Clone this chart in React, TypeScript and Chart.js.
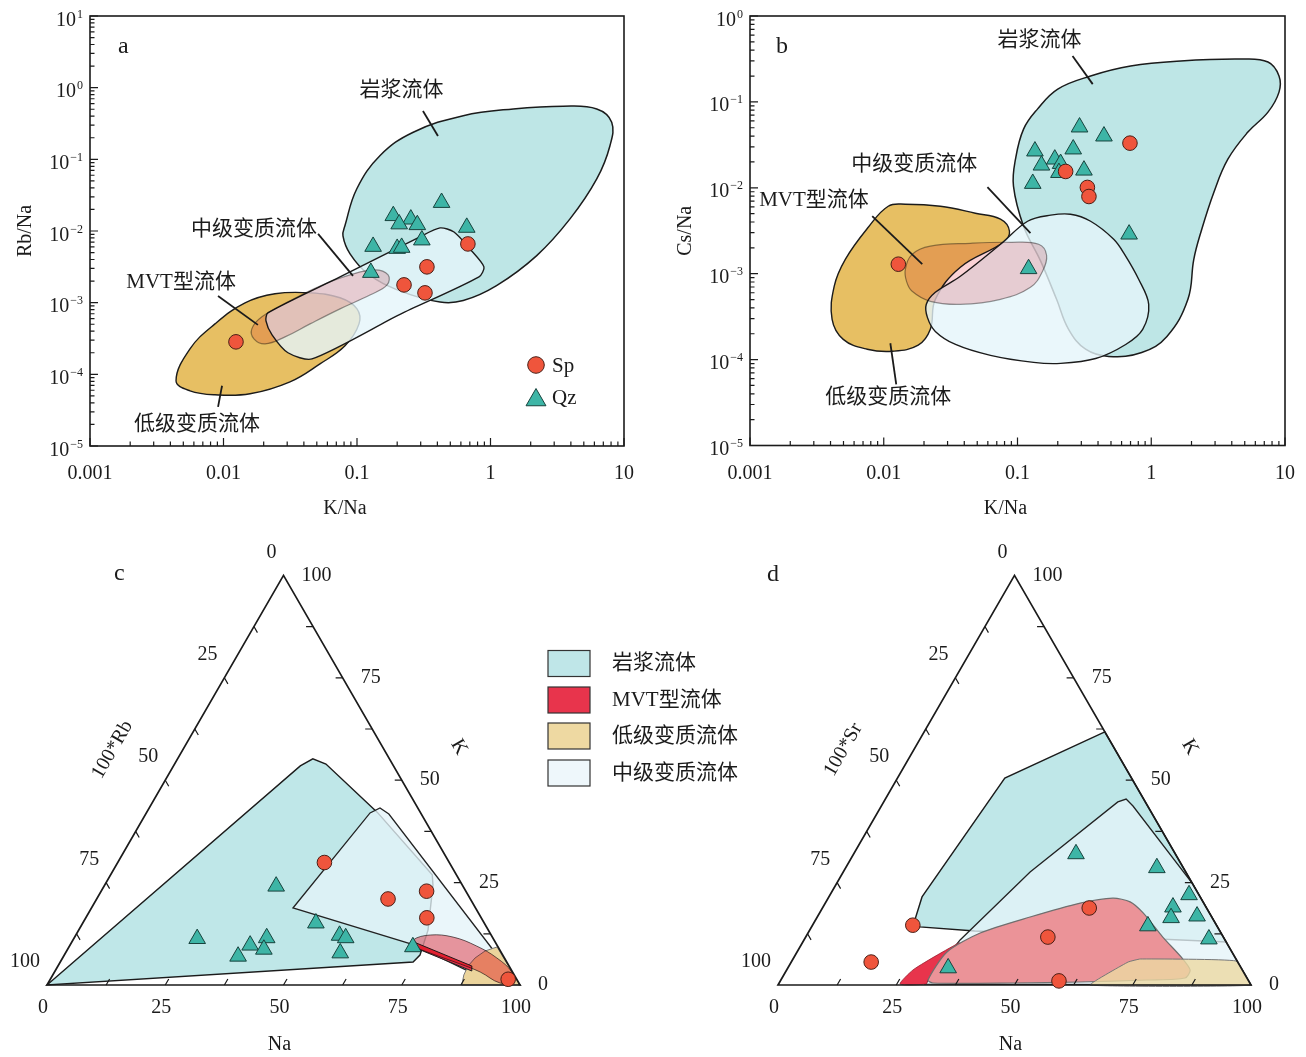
import React, { useEffect, useRef } from 'react';
import { Chart, registerables } from 'chart.js';

// ================= DATA =================
// ---- Panel a : K/Na vs Rb/Na ----
const A_SP_KNA = [0.0124, 0.677, 0.334, 0.225, 0.323];
const A_SP_RBNA = [0.000284, 0.0066, 0.00316, 0.00177, 0.00137];
const A_QZ_KNA = [0.43, 0.187, 0.253, 0.207, 0.283, 0.664, 0.132, 0.2, 0.216, 0.306, 0.127];
const A_QZ_RBNA = [0.0249, 0.0163, 0.0146, 0.0125, 0.0122, 0.0112, 0.00607, 0.00569, 0.00588, 0.00746, 0.00263];

// field outlines [K/Na, Rb/Na]
const A_MAGMA = [[0.21, 0.00146], [0.121, 0.00252], [0.0887, 0.0048], [0.0785, 0.00855], [0.0813, 0.0119], [0.0995, 0.0386], [0.149, 0.113], [0.264, 0.239], [0.625, 0.407], [1.48, 0.505], [3.51, 0.551], [6.25, 0.505], [8.09, 0.329], [7.85, 0.155], [6.25, 0.0533], [3.94, 0.01475], [2.22, 0.00454], [1.11, 0.00173], [0.625, 0.00107], [0.419, 0.00102]];
const A_MID = [[0.0215, 0.000721], [0.0746, 0.00229], [0.296, 0.00828], [0.419, 0.01104], [0.533, 0.0097], [0.701, 0.00562], [0.893, 0.00316], [0.82, 0.00229], [0.21, 0.000687], [0.046, 0.000164], [0.0304, 0.0002], [0.0231, 0.000356], [0.0208, 0.000557]];
const A_LOW = [[0.00441, 0.0000811], [0.00561, 0.000227], [0.00863, 0.000506], [0.0145, 0.000993], [0.0243, 0.00133], [0.0445, 0.00137], [0.0746, 0.00117], [0.1, 0.00082], [0.1035, 0.000506], [0.0813, 0.00025], [0.0528, 0.00014], [0.0315, 0.0000786], [0.0158, 0.0000535], [0.00863, 0.0000518], [0.00561, 0.0000589]];
const A_MVT = [[0.0163, 0.000431], [0.0194, 0.000634], [0.0315, 0.00106], [0.0528, 0.00171], [0.0887, 0.00244], [0.136, 0.00287], [0.171, 0.00244], [0.168, 0.00177], [0.125, 0.00128], [0.0746, 0.00082], [0.0445, 0.000506], [0.0289, 0.000333], [0.0205, 0.000266], [0.0169, 0.000313]];

// ---- Panel b : K/Na vs Cs/Na ----
const B_SP_KNA = [0.693, 0.229, 0.333, 0.342, 0.01285];
const B_SP_CSNA = [0.0331, 0.0155, 0.0101, 0.00792, 0.00129];
const B_QZ_KNA = [0.291, 0.443, 0.135, 0.261, 0.19, 0.21, 0.151, 0.204, 0.314, 0.13, 0.683, 0.121];
const B_QZ_CSNA = [0.0508, 0.0399, 0.0267, 0.0282, 0.0215, 0.0191, 0.0183, 0.015, 0.016, 0.0112, 0.00288, 0.00114];

const B_MAGMA = [[0.111, 0.00357], [0.0933, 0.01044], [0.0966, 0.0215], [0.111, 0.0482], [0.141, 0.0824], [0.2, 0.141], [0.352, 0.2], [0.701, 0.261], [1.66, 0.299], [4.68, 0.315], [7.46, 0.291], [9.02, 0.2], [9.02, 0.13], [7.46, 0.076], [5.28, 0.0445], [3.74, 0.0215], [2.94, 0.00889], [2.35, 0.00304], [2.08, 0.00147], [1.88, 0.000503], [1.31, 0.000186], [0.849, 0.000121], [0.481, 0.000109], [0.323, 0.000132], [0.241, 0.000225], [0.196, 0.000503], [0.149, 0.0014]];
const B_MID = [[0.0208, 0.00044], [0.0243, 0.000607], [0.0374, 0.000933], [0.0746, 0.0022], [0.119, 0.00408], [0.177, 0.0048], [0.249, 0.00492], [0.352, 0.00408], [0.524, 0.00252], [0.632, 0.00168], [0.805, 0.000861], [0.957, 0.00044], [0.863, 0.000225], [0.644, 0.00015], [0.384, 0.000103], [0.21, 0.0000903], [0.132, 0.0000927], [0.0628, 0.000112], [0.0344, 0.00015], [0.0243, 0.000213], [0.0212, 0.00031]];
const B_LOW = [[0.0108, 0.0061], [0.0145, 0.00644], [0.0265, 0.0061], [0.0484, 0.00506], [0.0746, 0.00431], [0.0871, 0.00312], [0.0785, 0.00232], [0.0374, 0.00119], [0.0243, 0.000503], [0.0223, 0.000225], [0.0181, 0.000147], [0.0116, 0.000125], [0.00752, 0.000132], [0.00498, 0.000172], [0.00411, 0.000294], [0.00426, 0.000713], [0.00516, 0.00147], [0.00766, 0.00347]];
const B_MVT = [[0.0145, 0.00112], [0.0163, 0.00168], [0.0223, 0.00209], [0.0445, 0.00226], [0.0887, 0.00232], [0.144, 0.0022], [0.165, 0.00164], [0.154, 0.00107], [0.125, 0.000694], [0.0746, 0.000503], [0.0374, 0.00044], [0.0223, 0.000477], [0.0163, 0.000624], [0.0148, 0.000815]];

// ---- Panel c : Na - K - 100*Rb (values in %) ----
const C_SP_NA = [43.7, 61.6, 68.8, 72.1, 96.8];
const C_SP_K = [29.9, 21.0, 22.9, 16.4, 1.4];
const C_QZ_NA = [36.4, 26.1, 38.1, 40.7, 36.9, 41.5, 49.3, 55.8, 57.4, 58.1, 72.7];
const C_QZ_K = [24.1, 11.3, 9.7, 11.5, 7.0, 8.7, 15.1, 12.1, 11.5, 7.8, 9.3];
// field outlines [Na, K]
const C_MAGMA = [[0, 0], [26.8, 53.5], [28.6, 55.2], [32.0, 53.95], [48.7, 42.2], [68.0, 26.9], [69.4, 24.4], [73.85, 13.4], [75.2, 7.3], [74.6, 5.6]];
const C_MID = [[42.6, 18.8], [47.3, 42.0], [48.8, 43.2], [51.4, 41.75], [100, 0], [87.8, 3.2], [72.7, 9.8]];
const C_LOW = [[87.7, 0], [86.9, 2.44], [86.7, 4.64], [87.2, 6.59], [88.45, 8.3], [90.5, 9.28], [100, 0]];
const C_MVT_CORE = [[72.3, 10.5], [87.5, 4.64], [88.1, 3.42], [73.5, 9.0]];
const C_MVT_HALO = [[71.9, 11.0], [74.9, 12.2], [80.0, 11.7], [86.1, 9.5], [91.8, 6.6], [96.7, 3.17], [98.2, 0.73], [95.5, 0.5], [90.0, 3.17], [84.8, 5.13], [77.1, 7.8], [73.0, 9.5]];

// ---- Panel d : Na - K - 100*Sr (values in %) ----
const D_SP_NA = [21.2, 16.9, 56.4, 51.2, 58.9];
const D_SP_K = [14.6, 5.6, 18.8, 11.7, 1.0];
const D_QZ_NA = [47.0, 65.8, 75.9, 74.0, 74.9, 80.2, 71.0, 85.5, 33.9];
const D_QZ_K = [32.0, 28.6, 22.0, 19.0, 16.4, 16.8, 14.4, 11.2, 4.15];
const D_MAGMA = [[21.1, 15.4], [19.7, 21.5], [22.7, 50.5], [38.2, 61.8], [89.5, 10.5], [35.0, 13.2], [22.9, 14.2]];
const D_MID = [[31.0, 0.2], [33.0, 11.0], [39.5, 27.6], [49.5, 44.7], [50.9, 45.4], [53.2, 43.7], [75.1, 24.9], [100, 0]];
const D_LOW = [[66.0, 0], [71.2, 5.6], [73.4, 6.35], [93.9, 5.86], [100, 0]];
const D_MVT_CORE = [[25.7, 0.24], [26.7, 3.66], [30.0, 7.3], [33.2, 10.3], [31.7, 8.06], [31.1, 1.22], [31.2, 0.24]];
const D_MVT_HALO = [[31.1, 1.22], [31.7, 8.06], [36.4, 12.7], [45.0, 16.6], [53.9, 20.0], [60.2, 21.2], [64.3, 20.3], [68.4, 17.6], [75.5, 11.7], [82.1, 6.6], [85.3, 3.66], [85.2, 1.7], [77.4, 1.22], [63.5, 0.73], [49.4, 0.49], [32.5, 0.49]];

// ---- tick labels / texts ----
const LOG_X_TICKS = [0.001, 0.01, 0.1, 1, 10];
const LOG_X_TICK_LABELS = ['0.001', '0.01', '0.1', '1', '10'];
const A_Y_EXPONENTS = [1, 0, -1, -2, -3, -4, -5];
const B_Y_EXPONENTS = [0, -1, -2, -3, -4, -5];
const TERN_TICKS = [0, 25, 50, 75, 100];
const TERN_MINOR = [12.5, 25, 37.5, 50, 62.5, 75, 87.5];
const FIELD_NAMES = ['岩浆流体', 'MVT型流体', '低级变质流体', '中级变质流体'];
const LEGEND_COLORS = ['#bfe6e8', '#e8344c', '#eed9a2', '#eef7fb'];

const A_NOTES = [
  { text: '岩浆流体', at: [0.215, 0.914], from: [0.312, 0.473], to: [0.404, 0.212] },
  { text: '中级变质流体', at: [0.0169, 0.01035], from: [0.0511, 0.0091], to: [0.0933, 0.00237] },
  { text: 'MVT型流体', at: [0.00481, 0.00189], from: [0.0091, 0.00124], to: [0.0181, 0.00049] },
  { text: '低级变质流体', at: [0.00632, 0.0000198], from: [0.00975, 0.0000692], to: [0.0091, 0.0000352] },
];
const B_NOTES = [
  { text: '岩浆流体', at: [0.146, 0.525], from: [0.258, 0.342], to: [0.365, 0.161] },
  { text: '中级变质流体', at: [0.0169, 0.01884], from: [0.0596, 0.01016], to: [0.125, 0.00296] },
  { text: 'MVT型流体', at: [0.00301, 0.00717], from: [0.0082, 0.00467], to: [0.0194, 0.00129] },
  { text: '低级变质流体', at: [0.0108, 0.0000362], from: [0.0112, 0.000155], to: [0.0124, 0.0000514] },
];

// ================= STYLE / LAYOUT =================
const W = 1306;
const H = 1057;
const SQ = Math.sqrt(3) / 2;
const SERIF = '"Liberation Serif", "Times New Roman", serif';
const MIXED = '"Liberation Serif", "Noto Sans CJK SC", serif';
const INK = '#1b1b1b';
const SP_FILL = '#ef553c';
const SP_EDGE = '#4a1f16';
const QZ_FILL = '#3db5a6';
const QZ_EDGE = '#17433d';

const AREA_A = { left: 90, top: 16, right: 624, bottom: 446 };
const AREA_B = { left: 750, top: 16, right: 1285, bottom: 445.5 };
const AREA_C = { left: 47, top: 985 - 473 * SQ, right: 520, bottom: 985 };
const AREA_D = { left: 778, top: 985 - 473 * SQ, right: 1251, bottom: 985 };

// global helper: closed outlines + blend modes (registered before the Filler)
const shapeHelper: any = {
  id: 'shapeHelper',
  afterDatasetUpdate(chart: any, args: any) {
    const ds = chart.data.datasets[args.index];
    const line = args.meta && args.meta.dataset;
    if (ds && ds.closed && line) {
      line._loop = true;
      line._fullLoop = true;
    }
  },
  beforeDatasetDraw(chart: any, args: any) {
    const ds = chart.data.datasets[args.index];
    if (ds && ds.blend) {
      chart.ctx.save();
      chart.ctx.globalCompositeOperation = ds.blend;
    }
  },
  afterDatasetDraw(chart: any, args: any) {
    const ds = chart.data.datasets[args.index];
    if (ds && ds.blend) chart.ctx.restore();
  },
};
Chart.register(shapeHelper);
Chart.register(...registerables);

const toXY = (pts: number[][]) => pts.map(([x, y]) => ({ x, y }));
const ternXY = (pts: number[][]) => pts.map(([na, k]) => ({ x: na + k / 2, y: k * SQ }));
const zipXY = (xs: number[], ys: number[]) => xs.map((x, i) => ({ x, y: ys[i] }));
const zipTern = (na: number[], k: number[]) => na.map((n, i) => ({ x: n + k[i] / 2, y: k[i] * SQ }));

function shape(data: any[], bg: string, border: string, bw: number, tension: number, order: number, extra: any = {}) {
  return {
    data, backgroundColor: bg, borderColor: border, borderWidth: bw, fill: 'shape', tension,
    spanGaps: true, closed: true, pointRadius: 0, pointHoverRadius: 0, pointHitRadius: 0,
    clip: false, order, ...extra,
  };
}
function spDs(data: any[]) {
  return {
    data, showLine: false, fill: false, pointStyle: 'circle', pointRadius: 7.3, pointHoverRadius: 7.3,
    pointBackgroundColor: SP_FILL, pointBorderColor: SP_EDGE, pointBorderWidth: 1, borderWidth: 0, clip: false, order: 0,
  };
}
function qzDs(data: any[]) {
  return {
    data, showLine: false, fill: false, pointStyle: 'triangle', pointRadius: 9.6, pointHoverRadius: 9.6,
    pointBackgroundColor: QZ_FILL, pointBorderColor: QZ_EDGE, pointBorderWidth: 1, borderWidth: 0, clip: false, order: 1,
    drawAxes: true,
  };
}

function baseOptions(area: any, xScale: any, yScale: any) {
  return {
    responsive: false, animation: false, events: [],
    layout: { autoPadding: false, padding: { left: area.left, top: area.top, right: W - area.right, bottom: H - area.bottom } },
    plugins: { legend: { display: false }, tooltip: { enabled: false }, title: { display: false } },
    scales: { x: { ...xScale, display: false, bounds: 'data' }, y: { ...yScale, display: false, bounds: 'data' } },
  };
}

function drawCircleMarker(ctx: any, x: number, y: number, r: number) {
  ctx.beginPath(); ctx.arc(x, y, r, 0, Math.PI * 2);
  ctx.fillStyle = SP_FILL; ctx.fill(); ctx.lineWidth = 1; ctx.strokeStyle = SP_EDGE; ctx.stroke();
}
function drawTriMarker(ctx: any, x: number, y: number, r: number) {
  ctx.beginPath(); ctx.moveTo(x, y - r); ctx.lineTo(x + r * SQ, y + r / 2); ctx.lineTo(x - r * SQ, y + r / 2); ctx.closePath();
  ctx.fillStyle = QZ_FILL; ctx.fill(); ctx.lineWidth = 1; ctx.strokeStyle = QZ_EDGE; ctx.stroke();
}
function drawSup(ctx: any, exp: number, right: number, yc: number) {
  const base = '10';
  const e = exp < 0 ? '\u2212' + Math.abs(exp) : String(exp);
  ctx.font = `20px ${SERIF}`; const bw = ctx.measureText(base).width;
  ctx.font = `12px ${SERIF}`; const ew = ctx.measureText(e).width;
  const x0 = right - ew - bw - 1;
  ctx.textAlign = 'left'; ctx.textBaseline = 'alphabetic';
  ctx.font = `20px ${SERIF}`; ctx.fillText(base, x0, yc + 9.5);
  ctx.font = `12px ${SERIF}`; ctx.fillText(e, x0 + bw + 1, yc + 1.5);
}

const logPanel = (cfg: any) => ({
  id: 'logPanel',
  beforeDatasetDraw(chart: any, args: any) {
    const ds = chart.data.datasets[args.index];
    if (!ds || !ds.drawAxes) return;
    const ctx = chart.ctx; const a = chart.chartArea;
    const xs = chart.scales.x; const ys = chart.scales.y;
    ctx.save();
    ctx.strokeStyle = INK; ctx.fillStyle = INK;
    ctx.lineWidth = 1.6;
    ctx.strokeRect(a.left, a.top, a.right - a.left, a.bottom - a.top);
    ctx.lineWidth = 1.2;
    ctx.beginPath();
    const xl = Math.round(Math.log10(xs.min)), xh = Math.round(Math.log10(xs.max));
    for (let e = xl; e <= xh; e++) {
      for (let m = 1; m <= 9; m++) {
        if (e === xh && m > 1) break;
        const p = xs.getPixelForValue(m * Math.pow(10, e));
        ctx.moveTo(p, a.bottom); ctx.lineTo(p, a.bottom - (m === 1 ? 8 : 4.5));
      }
    }
    const yl = Math.round(Math.log10(ys.min)), yh = Math.round(Math.log10(ys.max));
    for (let e = yl; e <= yh; e++) {
      for (let m = 1; m <= 9; m++) {
        if (e === yh && m > 1) break;
        const p = ys.getPixelForValue(m * Math.pow(10, e));
        ctx.moveTo(a.left, p); ctx.lineTo(a.left + (m === 1 ? 8 : 4.5), p);
      }
    }
    ctx.stroke();
    ctx.fillStyle = INK;
    ctx.font = `20px ${SERIF}`; ctx.textAlign = 'center'; ctx.textBaseline = 'alphabetic';
    LOG_X_TICKS.forEach((v, i) => ctx.fillText(LOG_X_TICK_LABELS[i], xs.getPixelForValue(v), a.bottom + 33));
    cfg.yExps.forEach((e: number) => drawSup(ctx, e, a.left - 7, ys.getPixelForValue(Math.pow(10, e))));
    ctx.font = `20px ${SERIF}`; ctx.textAlign = 'center'; ctx.textBaseline = 'alphabetic';
    ctx.fillText(cfg.xTitle, (a.left + a.right) / 2 - 12, a.bottom + 68);
    ctx.save();
    ctx.translate(a.left - 64, (a.top + a.bottom) / 2); ctx.rotate(-Math.PI / 2);
    ctx.textBaseline = 'middle'; ctx.fillText(cfg.yTitle, 0, 0);
    ctx.restore();
    ctx.font = `24px ${SERIF}`; ctx.textAlign = 'left'; ctx.textBaseline = 'alphabetic';
    ctx.fillText(cfg.letter, a.left + cfg.letterDx, a.top + 37);
    // field annotations
    ctx.lineWidth = 1.8; ctx.strokeStyle = INK;
    for (const n of cfg.notes) {
      ctx.beginPath();
      ctx.moveTo(xs.getPixelForValue(n.from[0]), ys.getPixelForValue(n.from[1]));
      ctx.lineTo(xs.getPixelForValue(n.to[0]), ys.getPixelForValue(n.to[1]));
      ctx.stroke();
      ctx.font = `21px ${MIXED}`; ctx.textAlign = 'center'; ctx.textBaseline = 'middle';
      ctx.fillStyle = INK;
      ctx.fillText(n.text, xs.getPixelForValue(n.at[0]), ys.getPixelForValue(n.at[1]));
    }
    if (cfg.markerLegend) {
      const mx = a.right - 88;
      drawCircleMarker(ctx, mx, a.bottom - 81, 8.3);
      drawTriMarker(ctx, mx, a.bottom - 46, 11.5);
      ctx.fillStyle = INK; ctx.font = `21px ${SERIF}`; ctx.textAlign = 'left'; ctx.textBaseline = 'alphabetic';
      ctx.fillText('Sp', mx + 16, a.bottom - 74);
      ctx.fillText('Qz', mx + 16, a.bottom - 42);
    }
    ctx.restore();
  },
});

const ternaryPanel = (cfg: any) => ({
  id: 'ternaryPanel',
  beforeDatasetDraw(chart: any, args: any) {
    const ds = chart.data.datasets[args.index];
    if (!ds || !ds.drawAxes) return;
    const ctx = chart.ctx; const xs = chart.scales.x; const ys = chart.scales.y;
    const P = (na: number, k: number) => [xs.getPixelForValue(na + k / 2), ys.getPixelForValue(k * SQ)];
    const A = P(0, 0), B = P(100, 0), T = P(0, 100);
    ctx.save();
    ctx.strokeStyle = INK; ctx.fillStyle = INK; ctx.lineJoin = 'miter';
    ctx.lineWidth = 1.7;
    ctx.beginPath(); ctx.moveTo(A[0], A[1]); ctx.lineTo(B[0], B[1]); ctx.lineTo(T[0], T[1]); ctx.closePath(); ctx.stroke();
    ctx.lineWidth = 1.2; ctx.beginPath();
    const L = 7;
    for (const v of TERN_MINOR) {
      let [x, y] = P(v, 0); ctx.moveTo(x, y); ctx.lineTo(x + L * 0.5, y - L * SQ);
      [x, y] = P(0, 100 - v); ctx.moveTo(x, y); ctx.lineTo(x + L * 0.5, y + L * SQ);
      [x, y] = P(100 - v, v); ctx.moveTo(x, y); ctx.lineTo(x - L, y);
    }
    ctx.stroke();
    ctx.font = `20px ${SERIF}`; ctx.textBaseline = 'middle';
    for (const v of TERN_TICKS) {
      let [x, y] = P(v, 0); ctx.textAlign = 'center'; ctx.fillText(String(v), x - 4, y + 23);
      [x, y] = P(0, 100 - v); ctx.textAlign = 'right'; ctx.fillText(String(v), x - 7, y - 23);
      [x, y] = P(100 - v, v); ctx.textAlign = 'left'; ctx.fillText(String(v), x + 18, y);
    }
    ctx.textAlign = 'center';
    const [mx, my] = P(50, 0);
    ctx.fillText(cfg.titles[0], mx - 4, my + 60);
    const [rx, ry] = P(50, 50);
    ctx.save(); ctx.translate(rx + 66 * SQ, ry - 33); ctx.rotate(Math.PI / 3); ctx.fillText(cfg.titles[1], 0, 0); ctx.restore();
    const [lx, ly] = P(0, 50);
    ctx.save(); ctx.translate(lx - 61 * SQ, ly - 30.5); ctx.rotate(-Math.PI / 3); ctx.fillText(cfg.titles[2], 0, 0); ctx.restore();
    ctx.font = `24px ${SERIF}`; ctx.textAlign = 'left'; ctx.textBaseline = 'alphabetic';
    ctx.fillText(cfg.letter, cfg.letterPos[0], cfg.letterPos[1]);
    if (cfg.legend) {
      const tops = [650.5, 687, 723, 760];
      FIELD_NAMES.forEach((name, i) => {
        ctx.fillStyle = LEGEND_COLORS[i];
        ctx.fillRect(548, tops[i], 42, 26);
        ctx.lineWidth = 1.2; ctx.strokeStyle = '#333';
        ctx.strokeRect(548, tops[i], 42, 26);
        ctx.fillStyle = INK; ctx.font = `21px ${MIXED}`; ctx.textAlign = 'left'; ctx.textBaseline = 'middle';
        ctx.fillText(name, 612, tops[i] + 13);
      });
    }
    ctx.restore();
  },
});

function buildA(canvas: HTMLCanvasElement) {
  return new Chart(canvas, {
    type: 'line',
    data: {
      datasets: [
        shape(toXY(A_MAGMA), '#bee6e6', INK, 1.5, 0.4, 13),
        shape(toXY(A_LOW), '#e7bf63', INK, 1.4, 0.4, 12),
        shape(toXY(A_MID), 'rgba(229,245,250,0.8)', INK, 1.4, 0.25, 11),
        shape(toXY(A_MVT), '#fbd3d6', '#9a9a9a', 1.2, 0.4, 10, { blend: 'multiply' }),
        qzDs(zipXY(A_QZ_KNA, A_QZ_RBNA)),
        spDs(zipXY(A_SP_KNA, A_SP_RBNA)),
      ] as any,
    },
    options: baseOptions(AREA_A, { type: 'logarithmic', min: 0.001, max: 10 }, { type: 'logarithmic', min: 0.00001, max: 10 }) as any,
    plugins: [logPanel({ yExps: A_Y_EXPONENTS, xTitle: 'K/Na', yTitle: 'Rb/Na', letter: 'a', letterDx: 28, notes: A_NOTES, markerLegend: true })],
  });
}
function buildB(canvas: HTMLCanvasElement) {
  return new Chart(canvas, {
    type: 'line',
    data: {
      datasets: [
        shape(toXY(B_MAGMA), '#bee6e6', INK, 1.5, 0.4, 13),
        shape(toXY(B_LOW), '#e7bf63', INK, 1.4, 0.4, 12),
        shape(toXY(B_MID), 'rgba(229,245,250,0.8)', INK, 1.4, 0.35, 11),
        shape(toXY(B_MVT), '#fbd3d6', '#9a9a9a', 1.2, 0.4, 10, { blend: 'multiply' }),
        qzDs(zipXY(B_QZ_KNA, B_QZ_CSNA)),
        spDs(zipXY(B_SP_KNA, B_SP_CSNA)),
      ] as any,
    },
    options: baseOptions(AREA_B, { type: 'logarithmic', min: 0.001, max: 10 }, { type: 'logarithmic', min: 0.00001, max: 1 }) as any,
    plugins: [logPanel({ yExps: B_Y_EXPONENTS, xTitle: 'K/Na', yTitle: 'Cs/Na', letter: 'b', letterDx: 26, notes: B_NOTES, markerLegend: false })],
  });
}
function buildC(canvas: HTMLCanvasElement) {
  return new Chart(canvas, {
    type: 'line',
    data: {
      datasets: [
        shape(ternXY(C_MAGMA), '#bfe7e8', INK, 1.4, 0, 14),
        shape(ternXY(C_MID), 'rgba(228,243,248,0.78)', '#222', 1.3, 0, 13),
        shape(ternXY(C_LOW), '#ebd49c', '#7a7a7a', 1, 0, 12),
        shape(ternXY(C_MVT_CORE), '#e8344c', '#222', 1, 0, 11),
        shape(ternXY(C_MVT_HALO), '#fa9aa0', '#6a6a6a', 1, 0.4, 10, { blend: 'multiply' }),
        qzDs(zipTern(C_QZ_NA, C_QZ_K)),
        spDs(zipTern(C_SP_NA, C_SP_K)),
      ] as any,
    },
    options: baseOptions(AREA_C, { type: 'linear', min: 0, max: 100 }, { type: 'linear', min: 0, max: 100 * SQ }) as any,
    plugins: [ternaryPanel({ titles: ['Na', 'K', '100*Rb'], letter: 'c', letterPos: [114, 580], legend: true })],
  });
}
function buildD(canvas: HTMLCanvasElement) {
  return new Chart(canvas, {
    type: 'line',
    data: {
      datasets: [
        shape(ternXY(D_MAGMA), '#bfe7e8', INK, 1.4, 0, 14),
        shape(ternXY(D_MID), 'rgba(228,243,248,0.78)', '#222', 1.3, 0, 13),
        shape(ternXY(D_MVT_CORE), '#e8344c', '#9a2030', 0.8, 0.2, 12),
        shape(ternXY(D_MVT_HALO), '#eb9398', '#6f6f6f', 1.2, 0.25, 11),
        shape(ternXY(D_LOW), 'rgba(236,217,163,0.8)', '#777', 1, 0.1, 10),
        qzDs(zipTern(D_QZ_NA, D_QZ_K)),
        spDs(zipTern(D_SP_NA, D_SP_K)),
      ] as any,
    },
    options: baseOptions(AREA_D, { type: 'linear', min: 0, max: 100 }, { type: 'linear', min: 0, max: 100 * SQ }) as any,
    plugins: [ternaryPanel({ titles: ['Na', 'K', '100*Sr'], letter: 'd', letterPos: [767, 581], legend: false })],
  });
}

export default function App() {
  const rA = useRef<HTMLCanvasElement>(null);
  const rB = useRef<HTMLCanvasElement>(null);
  const rC = useRef<HTMLCanvasElement>(null);
  const rD = useRef<HTMLCanvasElement>(null);
  useEffect(() => {
    const charts = [buildA(rA.current!), buildB(rB.current!), buildC(rC.current!), buildD(rD.current!)];
    return () => charts.forEach((c) => c.destroy());
  }, []);
  const cs: any = { position: 'absolute', left: 0, top: 0, width: W + 'px', height: H + 'px' };
  return (
    <div style={{ position: 'absolute', left: 0, top: 0, width: W, height: H, overflow: 'hidden', background: '#fff' }}>
      <canvas ref={rA} width={W} height={H} style={cs} />
      <canvas ref={rB} width={W} height={H} style={cs} />
      <canvas ref={rC} width={W} height={H} style={cs} />
      <canvas ref={rD} width={W} height={H} style={cs} />
    </div>
  );
}
